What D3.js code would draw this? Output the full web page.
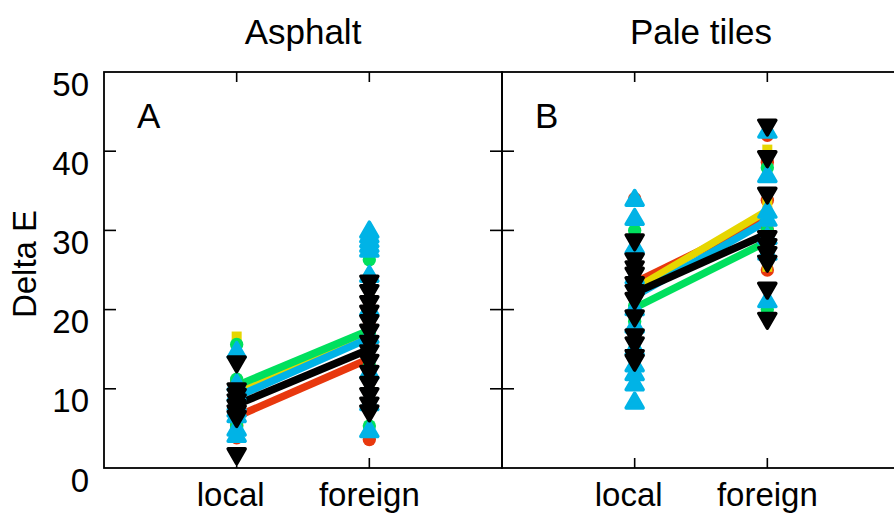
<!DOCTYPE html>
<html>
<head>
<meta charset="utf-8">
<script src="https://cdn.jsdelivr.net/npm/d3@7"></script>
<style>
  html, body { margin: 0; padding: 0; background: #fff; }
  svg { display: block; }
  text { font-family: "Liberation Sans", Arial, sans-serif; fill: #000; }
</style>
</head>
<body>
<svg id="chart" width="894" height="515"></svg>
<script>
// Panels, groups and axis ticks
const panelTitles = ["Asphalt", "Pale tiles"];
const panelLetters = ["A", "B"];
const groups = ["local", "foreign"];
const yTickValues = [0, 10, 20, 30, 40, 50];
const yLabel = "Delta E";

// Series order: red, yellow, green, cyan, black
const seriesColors = ["#e8380e", "#e6d600", "#00e05e", "#00b3e6", "#000000"];
const seriesShapes = ["circle", "square", "circle", "triangleUp", "triangleDown"];

// Individual Delta E values, one inner array per series
const asphaltLocal = [
  [11.0, 10.2, 9.0, 7.6, 6.0, 5.4, 4.6, 3.8],
  [16.6, 10.9, 9.8, 8.5, 7.0, 5.6, 5.0, 4.4],
  [15.6, 11.2, 10.4, 9.5, 8.0, 5.8, 5.2, 4.4],
  [14.6, 10.5, 9.2, 8.0, 7.2, 6.5, 4.8, 4.0],
  [13.4, 10.0, 9.3, 8.6, 7.9, 7.2, 6.5, 1.8]
];
const asphaltForeign = [
  [21.0, 18.5, 16.0, 14.0, 12.5, 11.0, 9.5, 3.6],
  [22.0, 19.5, 17.5, 16.0, 14.5, 12.0, 10.0, 8.5],
  [26.3, 22.6, 19.0, 17.0, 15.0, 13.0, 11.0, 5.3],
  [29.8, 29.2, 28.6, 28.0, 27.4, 24.2, 20.0, 16.5, 12.0, 8.0, 4.6],
  [23.6, 22.4, 21.0, 19.8, 18.6, 17.4, 16.0, 14.8, 13.6, 12.2, 10.8, 9.4, 8.2, 7.2]
];
const tilesLocal = [
  [34.0, 26.0, 24.5, 23.0, 21.5, 19.5, 16.0],
  [27.0, 25.0, 23.5, 22.0, 20.5, 19.0, 17.5],
  [30.0, 25.5, 22.0, 20.5, 19.5, 18.5, 15.0],
  [33.8, 31.4, 27.8, 24.0, 20.0, 17.8, 15.0, 12.9, 11.8, 10.5, 8.2],
  [28.8, 26.4, 25.4, 24.6, 23.4, 22.4, 21.4, 19.2, 16.8, 15.8, 14.2, 13.6]
];
const tilesForeign = [
  [42.0, 38.6, 33.8, 30.9, 30.1, 27.5, 25.0],
  [40.2, 33.8, 32.5, 30.0, 28.0, 25.4],
  [37.9, 31.5, 30.0, 28.0, 26.5, 20.0],
  [42.4, 36.8, 32.3, 31.3, 29.0, 27.0, 21.0],
  [43.3, 39.3, 34.7, 29.2, 28.2, 27.2, 26.1, 22.7, 18.9]
];

// Series means (local, foreign) per panel
const asphaltMeansLocal = [6.5, 9.4, 10.4, 9.0, 8.0];
const asphaltMeansForeign = [13.8, 16.8, 17.4, 16.4, 15.0];
const tilesMeansLocal = [23.4, 22.6, 20.2, 21.7, 22.1];
const tilesMeansForeign = [31.6, 32.5, 28.6, 31.2, 29.6];

const panelPoints = [[asphaltLocal, asphaltForeign], [tilesLocal, tilesForeign]];
const panelMeans = [[asphaltMeansLocal, asphaltMeansForeign], [tilesMeansLocal, tilesMeansForeign]];

// Layout
const svg = d3.select("#chart");
const panelW = 398, plotTop = 72, plotBottom = 468, firstLeft = 104;
const y = d3.scaleLinear().domain([0, 50]).range([plotBottom, plotTop]);

const symbolFor = {
  circle: d3.symbol().type(d3.symbolCircle).size(140),
  square: d3.symbol().type(d3.symbolSquare).size(100),
  triangle: d3.symbol().type(d3.symbolTriangle).size(125),
};

function drawMarker(g, shape, cx, cy, color) {
  if (shape === "triangleDown" || shape === "triangleUp") {
    g.append("path").attr("d", symbolFor.triangle())
      .attr("transform", `translate(${cx},${cy})` + (shape === "triangleDown" ? " rotate(180)" : ""))
      .attr("fill", color).attr("stroke", color).attr("stroke-width", 3.5).attr("stroke-linejoin", "round");
  } else {
    g.append("path").attr("d", symbolFor[shape]())
      .attr("transform", `translate(${cx},${cy})`)
      .attr("fill", color);
  }
}

// Y axis title and tick labels
svg.append("text")
  .attr("transform", `translate(36,${(plotTop + plotBottom) / 2 - 6}) rotate(-90)`)
  .attr("text-anchor", "middle").attr("font-size", 33).text(yLabel);

svg.append("g").selectAll("text").data(yTickValues).join("text")
  .attr("x", 89).attr("y", d => y(d) + 12).attr("dy", "0.35em")
  .attr("text-anchor", "end").attr("font-size", 33).text(d => d);

panelTitles.forEach((title, p) => {
  const left = firstLeft + p * panelW;
  const x = d3.scaleLinear().domain([0, 3]).range([left, left + panelW]);
  const xg = d => x(groups.indexOf(d) + 1);
  const g = svg.append("g");

  // Frame
  g.append("rect").attr("x", left).attr("y", plotTop).attr("width", panelW).attr("height", plotBottom - plotTop)
    .attr("fill", "none").attr("stroke", "#000").attr("stroke-width", 1.8);

  // Inward ticks on left side of panel (crossing the shared edge)
  const inner = yTickValues.filter(v => v > 0 && v < 50);
  g.append("g").selectAll("line").data(inner).join("line")
    .attr("x1", p === 0 ? left : left - 12).attr("x2", left + 12)
    .attr("y1", d => y(d)).attr("y2", d => y(d))
    .attr("stroke", "#000").attr("stroke-width", 1.6);

  // Top and bottom category ticks and labels
  groups.forEach(gr => {
    g.append("line").attr("x1", xg(gr)).attr("x2", xg(gr)).attr("y1", plotTop).attr("y2", plotTop + 10)
      .attr("stroke", "#000").attr("stroke-width", 1.6);
    g.append("line").attr("x1", xg(gr)).attr("x2", xg(gr)).attr("y1", plotBottom).attr("y2", plotBottom - 10)
      .attr("stroke", "#000").attr("stroke-width", 1.6);
    g.append("text").attr("x", xg(gr) - (gr === "local" ? 6 : 0)).attr("y", 506)
      .attr("text-anchor", "middle").attr("font-size", 33).text(gr);
  });

  // Title and panel letter
  svg.append("text").attr("x", left + panelW / 2).attr("y", 44)
    .attr("text-anchor", "middle").attr("font-size", 35).text(title);
  svg.append("text").attr("x", left + 33).attr("y", 128)
    .attr("font-size", 35).text(panelLetters[p]);

  // Mean lines
  const means = panelMeans[p];
  seriesColors.forEach((c, s) => {
    g.append("line")
      .attr("x1", xg("local")).attr("y1", y(means[0][s]))
      .attr("x2", xg("foreign")).attr("y2", y(means[1][s]))
      .attr("stroke", c).attr("stroke-width", 7.5);
  });

  // Individual points
  seriesColors.forEach((c, s) => {
    groups.forEach((gr, gi) => {
      panelPoints[p][gi][s].forEach(v => drawMarker(g, seriesShapes[s], xg(gr), y(v), c));
    });
  });
});
</script>
</body>
</html>
